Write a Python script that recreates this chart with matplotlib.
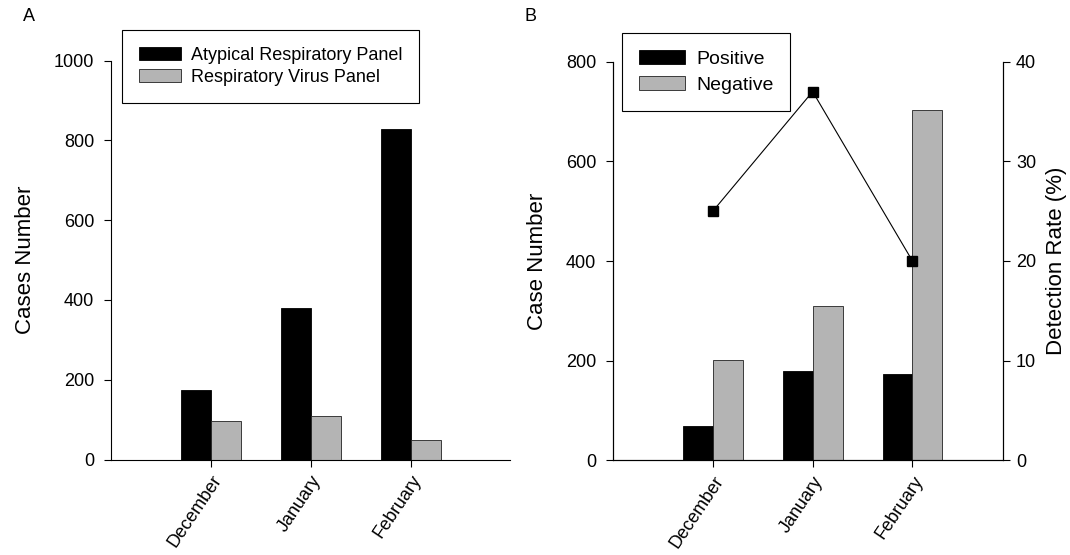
import matplotlib
matplotlib.use("Agg")
import matplotlib.pyplot as plt
import numpy as np

plt.rcParams['font.family'] = ['Liberation Sans', 'DejaVu Sans']

months = ["December", "January", "February"]

# Panel A
atypical = [175, 381, 828]
virus = [97, 108, 50]
legend_a = ["Atypical Respiratory Panel", "Respiratory Virus Panel"]

# Panel B
positive = [68, 179, 174]
negative = [202, 310, 703]
detection_rate = [25, 37, 20]
legend_b = ["Positive", "Negative"]

BLACK = "#000000"
GRAY = "#b4b4b4"
W = 0.3

fig = plt.figure(figsize=(10.70, 5.55), dpi=100)
axA = fig.add_axes([111 / 1070, 1 - 459.5 / 555, 399.5 / 1070, 398.8 / 555])
axB = fig.add_axes([613 / 1070, 1 - 460.3 / 555, 390.3 / 1070, 398.6 / 555])


def style(ax, right=False):
    ax.spines['top'].set_visible(False)
    if not right:
        ax.spines['right'].set_visible(False)
    for s in ax.spines.values():
        s.set_linewidth(0.8)
    ax.tick_params(direction='out', length=5.2, width=0.8, labelsize=13, pad=7)
    ax.tick_params(axis='x', pad=4)


x = np.arange(len(months))

# ---- Panel A
hA1 = axA.bar(x - W / 2, atypical, W, color=BLACK, edgecolor=BLACK, linewidth=0.6)
hA2 = axA.bar(x + W / 2, virus, W, color=GRAY, edgecolor="#222222", linewidth=0.6)
axA.set_xlim(-1, 3)
axA.set_ylim(0, 1000)
axA.set_yticks([0, 200, 400, 600, 800, 1000])
axA.set_xticks(x)
axA.set_xticklabels(months, rotation=56, ha='right', va='top', rotation_mode='anchor')
style(axA)
axA.set_ylabel("Cases Number", fontsize=16, labelpad=13)
legA = fig.legend([hA1, hA2], legend_a, loc='upper left',
                  bbox_to_anchor=(122 / 1070, 1 - 30 / 555), bbox_transform=fig.transFigure,
                  borderaxespad=0, fancybox=False, edgecolor='black', framealpha=1,
                  fontsize=13, handlelength=2.3, handleheight=0.72, handletextpad=0.55,
                  borderpad=0.95, labelspacing=0.25)
legA.get_frame().set_linewidth(0.8)

# ---- Panel B
hB1 = axB.bar(x - W / 2, positive, W, color=BLACK, edgecolor=BLACK, linewidth=0.6)
hB2 = axB.bar(x + W / 2, negative, W, color=GRAY, edgecolor="#222222", linewidth=0.6)
axB.set_xlim(-1, 2.91)
axB.set_ylim(0, 800)
axB.set_yticks([0, 200, 400, 600, 800])
axB.set_xticks(x)
axB.set_xticklabels(months, rotation=56, ha='right', va='top', rotation_mode='anchor')
style(axB, right=True)
axB.set_ylabel("Case Number", fontsize=16, labelpad=13)

axR = axB.twinx()
axR.plot(x, detection_rate, color='black', linewidth=0.8, marker='s',
         markersize=7.5, markerfacecolor='black', markeredgecolor='black')
axR.set_ylim(0, 40)
axR.set_yticks([0, 10, 20, 30, 40])
axR.spines['top'].set_visible(False)
for s in axR.spines.values():
    s.set_linewidth(0.8)
axR.tick_params(direction='out', length=5.2, width=0.8, labelsize=13, pad=4)
axR.set_ylabel("Detection Rate (%)", fontsize=16, labelpad=7)

legB = fig.legend([hB1, hB2], legend_b, loc='upper left',
                  bbox_to_anchor=(622.3 / 1070, 1 - 33.3 / 555), bbox_transform=fig.transFigure,
                  borderaxespad=0, fancybox=False, edgecolor='black', framealpha=1,
                  fontsize=14, handlelength=2.37, handleheight=0.72, handletextpad=0.6,
                  borderpad=0.85, labelspacing=0.45)
legB.get_frame().set_linewidth(0.8)

fig.text(23 / 1070, 1 - 16.5 / 555, "A", fontsize=13, va='center', ha='left')
fig.text(524 / 1070, 1 - 16.5 / 555, "B", fontsize=13, va='center', ha='left')

fig.savefig("out.png", dpi=100, facecolor='white')
